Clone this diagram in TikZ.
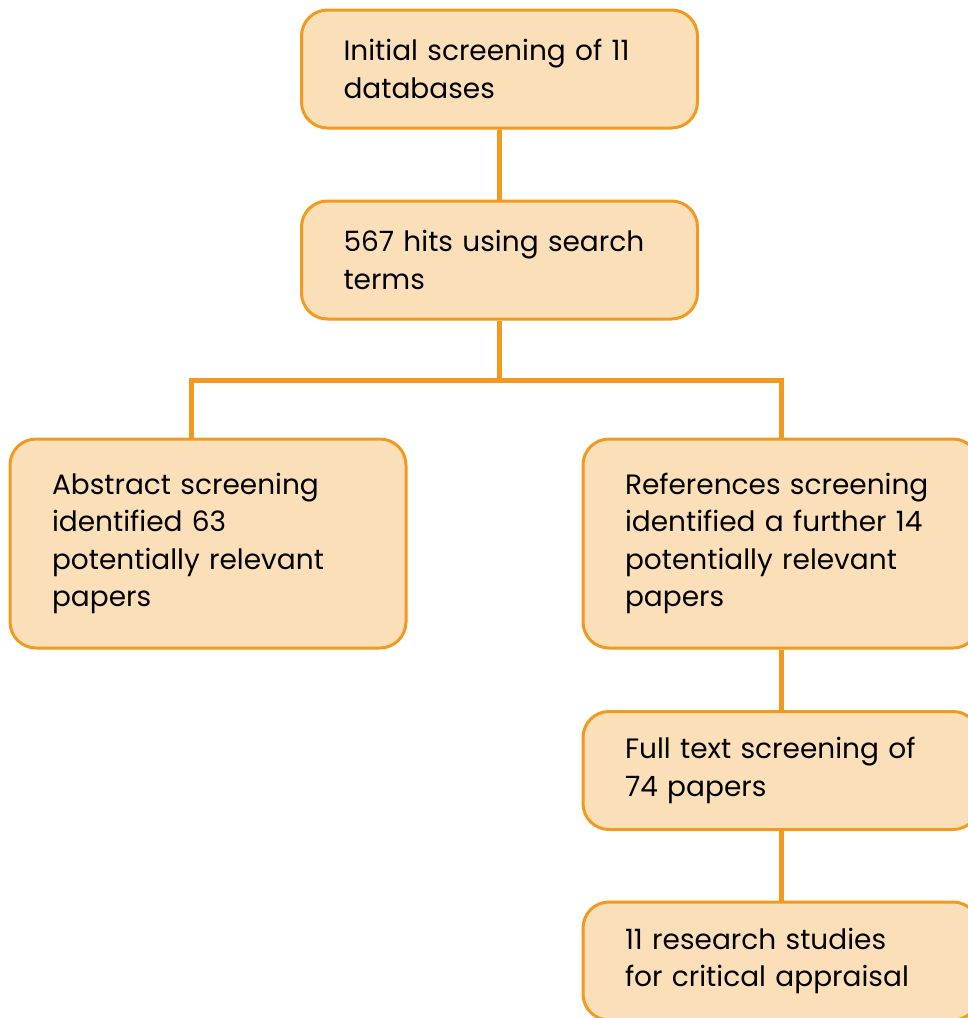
\documentclass[tikz,border=0pt]{standalone}
\usepackage{fontspec}
\setmainfont{Poppins}
\usepackage{tikz}
\usetikzlibrary{calc}
\definecolor{boxfill}{HTML}{FBDFB8}
\definecolor{boxline}{HTML}{F39A1E}
\tikzstyle{blk}=[draw=boxline, fill=boxfill, line width=3pt, rounded corners=26pt, minimum width=396pt, minimum height=118pt, inner xsep=42pt, text width=312pt, align=left, font=\fontsize{28}{37.5}\selectfont]
\tikzstyle{link}=[draw=boxline, line width=5pt]

\begin{document}
\begin{tikzpicture}[x=1pt,y=-1pt]
      \useasboundingbox (0,0) rectangle (968,1018);
      \clip (0,0) rectangle (968,1018);
      \node [blk] (a) at (499.5,69) {Initial screening of 11\\databases};
      \node [blk] (b) at (499.5,260) {567 hits using search\\terms};
      \node [blk, minimum height=209pt] (c) at (208,543.5) {Abstract screening\\identified 63\\potentially relevant\\papers};
      \node [blk, minimum height=209pt] (d) at (781,543.5) {References screening\\identified a further 14\\potentially relevant\\papers};
      \node [blk] (e) at (781,770.5) {Full text screening of\\74 papers};
      \node [blk] (f) at (781,961) {11 research studies\\for critical appraisal};
      \coordinate (fork) at (499.5,380);
      \path[link] (a) -- (b);
      \path[link] (b.south) -- (fork);
      \path[link] (fork) -| ($(c.north)+(-17,0)$);
      \path[link] (fork) -| (d.north);
      \path[link] (d) -- (e);
      \path[link] (e) -- (f);
  \end{tikzpicture}
\end{document}
